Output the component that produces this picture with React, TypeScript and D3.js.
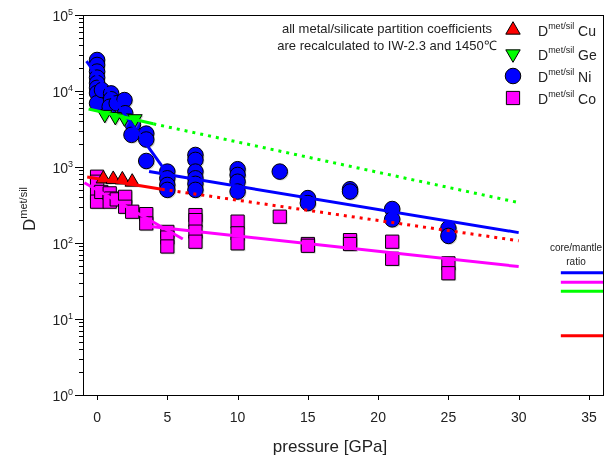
import React, { useEffect, useRef } from "react";
import * as d3 from "d3";

// [pressure GPa, D met/sil]
const niPoints = [
  [0, 25600], [0, 22000], [0, 18000], [0, 15000], [0, 12700], [0, 11000], [0, 9400], [0, 6900],
  [0.35, 10300], [1.0, 9300], [1.0, 7800], [0.9, 6200], [1.4, 6900], [1.95, 7600], [2.0, 5100],
  [2.55, 3600], [2.45, 2650], [3.5, 2750], [3.5, 2300], [3.5, 1200],
  [5, 870], [5, 710], [5, 580], [5, 500],
  [7, 1440], [7, 1240], [7, 870], [7, 710], [7, 600], [7, 500],
  [10, 935], [10, 785], [10, 640], [10, 475],
  [13, 870],
  [15, 390], [15, 335],
  [18, 510], [18, 475],
  [21, 280], [21, 205],
  [25, 156], [25, 124],
];

const coPoints = [
  [0, 745], [0, 640], [0, 450], [0, 350], [0.3, 470], [0.9, 450], [1.0, 385], [0.9, 350],
  [1.4, 375], [2.0, 405], [2.0, 300], [2.5, 258], [3.5, 240], [3.5, 181],
  [5, 140], [5, 118], [5, 90],
  [7, 233], [7, 200], [7, 141], [7, 104],
  [10, 191], [10, 134], [10, 99],
  [13, 222],
  [15, 97], [15, 92],
  [18, 109], [18, 97],
  [21, 104], [21, 62],
  [25, 54], [25, 40],
];

const cuPoints = [[0.45, 700], [1.15, 690], [1.8, 680], [2.5, 635]];
const gePoints = [[0.55, 4900], [1.3, 4600], [1.95, 4400], [2.7, 4300]];

// fitted trends
const niSteep = [[-0.75, 24800], [4.75, 950]];
const niFit = [[3.7, 870], [30, 137]];
const geSolid = [[-0.6, 5800], [4, 3700]];
const geDotted = [[4, 3700], [30, 340]];
const cuSolid = [[-0.7, 740], [4.6, 510]];
const cuDotted = [[4.6, 510], [30, 107]];
const coSteep = [[-0.9, 620], [6.1, 113]];
const coFit = [[3.5, 167], [30, 49]];

// core/mantle ratios
const ratioNi = 40.6;
const ratioCo = 30.4;
const ratioGe = 23.1;
const ratioCu = 6.0;
const ratioSpan = [33, 36];

const xTicks = [0, 5, 10, 15, 20, 25, 30, 35];
const yExps = [0, 1, 2, 3, 4, 5];
const legendNames = ["Cu", "Ge", "Ni", "Co"];

const W = 607;
const H = 459;
const m = { top: 15, right: 4, bottom: 64, left: 83 };
const FONT = "'Liberation Sans', Arial, sans-serif";

export default function App() {
  const ref = useRef<HTMLDivElement>(null);

  useEffect(() => {
    if (!ref.current) return;
    ref.current.innerHTML = "";

    const svg = d3
      .select(ref.current)
      .append("svg")
      .attr("width", W)
      .attr("height", H)
      .style("display", "block")
      .style("font-family", FONT);

    const x = d3.scaleLinear().domain([-1, 36]).range([m.left, W - m.right]);
    const y = d3.scaleLog().domain([1, 1e5]).range([H - m.bottom, m.top]);

    // frame
    svg
      .append("rect")
      .attr("x", m.left + 0.5)
      .attr("y", m.top + 0.5)
      .attr("width", W - m.right - m.left)
      .attr("height", H - m.bottom - m.top)
      .attr("fill", "none")
      .attr("stroke", "#000")
      .attr("stroke-width", 1);

    // y axis ticks
    const yMinor: number[] = [];
    for (let e = 0; e < 5; e++) for (let k = 2; k <= 9; k++) yMinor.push(k * Math.pow(10, e));
    svg
      .append("g")
      .selectAll("line")
      .data(yMinor)
      .join("line")
      .attr("x1", m.left - 4)
      .attr("x2", m.left)
      .attr("y1", (d) => Math.round(y(d)) + 0.5)
      .attr("y2", (d) => Math.round(y(d)) + 0.5)
      .attr("stroke", "#000");
    svg
      .append("g")
      .selectAll("line")
      .data(yExps)
      .join("line")
      .attr("x1", m.left - 8)
      .attr("x2", m.left)
      .attr("y1", (d) => Math.round(y(Math.pow(10, d))) + 0.5)
      .attr("y2", (d) => Math.round(y(Math.pow(10, d))) + 0.5)
      .attr("stroke", "#000");
    const yl = svg
      .append("g")
      .selectAll("text")
      .data(yExps)
      .join("text")
      .attr("x", m.left - 10)
      .attr("y", (d) => y(Math.pow(10, d)) + 6)
      .attr("text-anchor", "end")
      .attr("font-size", 14)
      .attr("fill", "#222");
    yl.append("tspan").text("10");
    yl.append("tspan").attr("font-size", 9).attr("dy", -6).text((d) => String(d));

    // x axis ticks
    svg
      .append("g")
      .selectAll("line")
      .data(xTicks)
      .join("line")
      .attr("x1", (d) => Math.round(x(d)) + 0.5)
      .attr("x2", (d) => Math.round(x(d)) + 0.5)
      .attr("y1", H - m.bottom)
      .attr("y2", H - m.bottom + 5)
      .attr("stroke", "#000");
    svg
      .append("g")
      .selectAll("text")
      .data(xTicks)
      .join("text")
      .attr("x", (d) => x(d))
      .attr("y", H - m.bottom + 27)
      .attr("text-anchor", "middle")
      .attr("font-size", 14)
      .attr("fill", "#222")
      .text((d) => String(d));

    // axis titles
    svg
      .append("text")
      .attr("x", 330)
      .attr("y", 452)
      .attr("text-anchor", "middle")
      .attr("font-size", 17)
      .attr("fill", "#222")
      .text("pressure [GPa]");
    const yt = svg
      .append("text")
      .attr("transform", "translate(35,209) rotate(-90)")
      .attr("text-anchor", "middle")
      .attr("font-size", 17)
      .attr("fill", "#222");
    yt.append("tspan").text("D");
    yt.append("tspan").attr("font-size", 11).attr("dy", -8).text("met/sil");

    // note
    svg
      .append("text")
      .attr("x", 387)
      .attr("y", 33)
      .attr("text-anchor", "middle")
      .attr("font-size", 13)
      .attr("fill", "#222")
      .text("all metal/silicate partition coefficients");
    svg
      .append("text")
      .attr("x", 387)
      .attr("y", 50)
      .attr("text-anchor", "middle")
      .attr("font-size", 13)
      .attr("fill", "#222")
      .text("are recalculated to IW-2.3 and 1450\u2103");

    const plot = svg.append("g");

    const tri = d3.symbol().type(d3.symbolTriangle).size(90);
    const sq = d3.symbol().type(d3.symbolSquare).size(175);
    const circ = d3.symbol().type(d3.symbolCircle).size(190);

    const drawMarks = (pts: number[][], path: string, fill: string, rot = 0) => {
      const g = plot.append("g");
      g.selectAll("path.sh")
        .data(pts)
        .join("path")
        .attr("d", path)
        .attr("transform", (d) => `translate(${x(d[0]) + 1.2},${y(d[1]) + 1.2}) rotate(${rot})`)
        .attr("fill", "#999")
        .attr("opacity", 0.45);
      g.selectAll("path.mk")
        .data(pts)
        .join("path")
        .attr("d", path)
        .attr("transform", (d) => `translate(${x(d[0])},${y(d[1])}) rotate(${rot})`)
        .attr("fill", fill)
        .attr("stroke", "#000")
        .attr("stroke-width", 1);
    };

    drawMarks(niPoints, circ()!, "#0000ff");
    drawMarks(coPoints, sq()!, "#ff00ff");
    drawMarks(gePoints, tri()!, "#00ff00", 180);
    drawMarks(cuPoints, tri()!, "#ff0000");

    const line = d3
      .line<number[]>()
      .x((d) => x(d[0]))
      .y((d) => y(d[1]));
    const drawLine = (pts: number[][], color: string, dotted = false) => {
      plot
        .append("path")
        .attr("d", line(pts))
        .attr("fill", "none")
        .attr("stroke", color)
        .attr("stroke-width", 3)
        .attr("stroke-dasharray", dotted ? "3,5" : null);
    };
    drawLine(niSteep, "#0000ff");
    drawLine(niFit, "#0000ff");
    drawLine(geSolid, "#00ff00");
    drawLine(geDotted, "#00ff00", true);
    drawLine(cuSolid, "#ff0000");
    drawLine(cuDotted, "#ff0000", true);
    drawLine(coSteep, "#ff00ff");
    drawLine(coFit, "#ff00ff");

    // core/mantle ratio
    svg
      .append("text")
      .attr("x", 576)
      .attr("y", 251)
      .attr("text-anchor", "middle")
      .attr("font-size", 10)
      .attr("fill", "#222")
      .text("core/mantle");
    svg
      .append("text")
      .attr("x", 576)
      .attr("y", 265)
      .attr("text-anchor", "middle")
      .attr("font-size", 10)
      .attr("fill", "#222")
      .text("ratio");
    [
      [ratioNi, "#0000ff"],
      [ratioCo, "#ff00ff"],
      [ratioGe, "#00ff00"],
      [ratioCu, "#ff0000"],
    ].forEach(([v, c]) => {
      svg
        .append("line")
        .attr("x1", x(ratioSpan[0]))
        .attr("x2", x(ratioSpan[1]))
        .attr("y1", y(v as number))
        .attr("y2", y(v as number))
        .attr("stroke", c as string)
        .attr("stroke-width", 3);
    });

    // legend
    const legendY = [30, 54, 76, 98];
    const legendShapes = [
      { d: tri()!, fill: "#ff0000", rot: 0 },
      { d: tri()!, fill: "#00ff00", rot: 180 },
      { d: circ()!, fill: "#0000ff", rot: 0 },
      { d: sq()!, fill: "#ff00ff", rot: 0 },
    ];
    legendNames.forEach((name, i) => {
      const s = legendShapes[i];
      svg
        .append("path")
        .attr("d", s.d)
        .attr("transform", `translate(513,${legendY[i]}) rotate(${s.rot})`)
        .attr("fill", s.fill)
        .attr("stroke", "#000");
      const t = svg
        .append("text")
        .attr("x", 538)
        .attr("y", legendY[i] + 6)
        .attr("font-size", 14)
        .attr("fill", "#222");
      t.append("tspan").text("D");
      t.append("tspan").attr("font-size", 9).attr("dy", -7).text("met/sil");
      t.append("tspan").attr("dy", 7).text(" " + name);
    });
  }, []);

  return <div ref={ref} style={{ position: "fixed", left: 0, top: 0 }} />;
}
